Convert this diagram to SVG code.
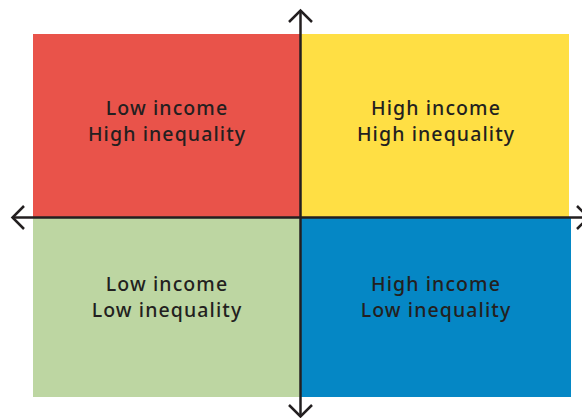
<svg xmlns="http://www.w3.org/2000/svg" width="582" height="418" viewBox="0 0 582 418">
<style>
.lbl{font-family:"Noto Sans","Open Sans",sans-serif;font-size:19.5px;font-weight:500;fill:#231f20;text-anchor:middle;letter-spacing:1.1px}
.ax{stroke:#231f20;stroke-width:2.5;fill:none}
.ah{stroke:#231f20;stroke-width:2.5;fill:none;stroke-linecap:butt;stroke-linejoin:miter}
</style>
<rect width="582" height="418" fill="#ffffff"/>
<g id="q-low-high">
<rect x="33" y="34" width="267" height="183" fill="#E9534A"/>
<text class="lbl" x="167" y="115">Low income</text>
<text class="lbl" x="167" y="141">High inequality</text>
</g>
<g id="q-high-high">
<rect x="300" y="34" width="269" height="183" fill="#FFDF44"/>
<text class="lbl" x="436" y="115">High income</text>
<text class="lbl" x="436" y="141">High inequality</text>
</g>
<g id="q-low-low">
<rect x="33" y="217" width="267" height="180" fill="#BDD6A2"/>
<text class="lbl" x="167" y="291">Low income</text>
<text class="lbl" x="167" y="317">Low inequality</text>
</g>
<g id="q-high-low">
<rect x="300" y="217" width="271" height="180" fill="#0587C5"/>
<text class="lbl" x="436" y="291">High income</text>
<text class="lbl" x="436" y="317">Low inequality</text>
</g>
<g id="connectors">
<line class="ax" x1="300.5" y1="11" x2="300.5" y2="416"/>
<line class="ax" x1="13" y1="217.5" x2="582" y2="217.5"/>
<polyline class="ah" points="289,22 300.5,10.5 312,22"/>
<polyline class="ah" points="289,405 300.5,416.5 312,405"/>
<polyline class="ah" points="24,206 12.5,217.5 24,229"/>
<polyline class="ah" points="577,206 588.5,217.5 577,229"/>
</g>
</svg>
